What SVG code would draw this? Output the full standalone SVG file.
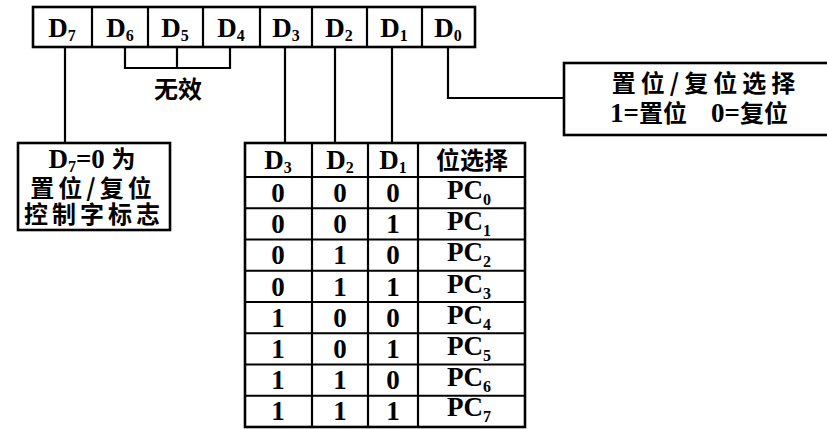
<svg xmlns="http://www.w3.org/2000/svg" width="827" height="429" viewBox="0 0 827 429">
<style>
.ln{stroke:#000;stroke-width:2.2;fill:none}
.bx{stroke:#000;stroke-width:2.6;fill:#fff}
.t{font-family:"Liberation Serif","Noto Sans CJK SC",serif;font-weight:bold;font-size:27px;fill:#000;text-anchor:middle}
.c{font-family:"Noto Sans CJK SC","Liberation Serif",sans-serif;font-weight:bold;font-size:24px;fill:#000;text-anchor:middle}
.l{font-family:"Liberation Serif",serif;font-size:27px}
.s{font-size:16px}
</style>
<rect width="827" height="429" fill="#fff"/>
<g id="register">
<rect class="bx" x="33" y="7" width="442" height="40"/>
<path class="ln" d="M92 7V47M148 7V47M203 7V47M260 7V47M312 7V47M367 7V47M422 7V47"/>
<text class="t" x="62" y="37">D<tspan class="s" dy="4">7</tspan></text>
<text class="t" x="120" y="37">D<tspan class="s" dy="4">6</tspan></text>
<text class="t" x="175" y="37">D<tspan class="s" dy="4">5</tspan></text>
<text class="t" x="231" y="37">D<tspan class="s" dy="4">4</tspan></text>
<text class="t" x="286" y="37">D<tspan class="s" dy="4">3</tspan></text>
<text class="t" x="339" y="37">D<tspan class="s" dy="4">2</tspan></text>
<text class="t" x="394" y="37">D<tspan class="s" dy="4">1</tspan></text>
<text class="t" x="448" y="37">D<tspan class="s" dy="4">0</tspan></text>
</g>
<g id="connectors">
<path class="ln" d="M65 47V143"/>
<path class="ln" d="M125 47V68H230V47M177 47V68"/>
<path class="ln" d="M285 47V143M335 47V143M392 47V143"/>
<path class="ln" d="M448 47V98H564"/>
</g>
<g id="invalid">
<text class="c" x="178" y="98" font-size="25">无效</text>
</g>
<g id="select-box">
<rect class="bx" x="564" y="63" width="270" height="72"/>
<text class="c" x="706" y="92" letter-spacing="5" font-size="25">置位/复位选择</text>
<text class="c" x="699" y="122" font-size="25"><tspan class="l">1=</tspan>置位<tspan class="l" dx="24">0=</tspan>复位</text>
</g>
<g id="flag-box">
<rect class="bx" x="18" y="143" width="152" height="87"/>
<text class="t" x="92" y="168" font-size="26">D<tspan class="s" dy="4">7</tspan><tspan dy="-4">=0 </tspan><tspan font-family="Noto Sans CJK SC" font-size="24">为</tspan></text>
<text class="c" x="93" y="197" letter-spacing="4">置位/复位</text>
<text class="c" x="94" y="223" letter-spacing="4">控制字标志</text>
</g>
<g id="table">
<rect class="bx" x="245" y="143" width="280" height="284" stroke-width="3.2"/>
<path class="ln" d="M312 143V427M368 143V427M418 143V427"/>
<path class="ln" d="M245 177H525M245 208.25H525M245 239.5H525M245 270.75H525M245 302H525M245 333.25H525M245 364.5H525M245 395.75H525"/>
<text class="t" x="278" y="169">D<tspan class="s" dy="4">3</tspan></text>
<text class="t" x="340" y="169">D<tspan class="s" dy="4">2</tspan></text>
<text class="t" x="393" y="169">D<tspan class="s" dy="4">1</tspan></text>
<text class="c" x="472" y="169" font-size="25">位选择</text>
<g class="rows">
<text class="t" x="278" y="202">0</text><text class="t" x="340" y="202">0</text><text class="t" x="393" y="202">0</text><text class="t" x="469" y="199">PC<tspan class="s" dy="6">0</tspan></text>
<text class="t" x="278" y="233">0</text><text class="t" x="340" y="233">0</text><text class="t" x="393" y="233">1</text><text class="t" x="469" y="230">PC<tspan class="s" dy="6">1</tspan></text>
<text class="t" x="278" y="264">0</text><text class="t" x="340" y="264">1</text><text class="t" x="393" y="264">0</text><text class="t" x="469" y="261">PC<tspan class="s" dy="6">2</tspan></text>
<text class="t" x="278" y="296">0</text><text class="t" x="340" y="296">1</text><text class="t" x="393" y="296">1</text><text class="t" x="469" y="293">PC<tspan class="s" dy="6">3</tspan></text>
<text class="t" x="278" y="327">1</text><text class="t" x="340" y="327">0</text><text class="t" x="393" y="327">0</text><text class="t" x="469" y="324">PC<tspan class="s" dy="6">4</tspan></text>
<text class="t" x="278" y="358">1</text><text class="t" x="340" y="358">0</text><text class="t" x="393" y="358">1</text><text class="t" x="469" y="355">PC<tspan class="s" dy="6">5</tspan></text>
<text class="t" x="278" y="389">1</text><text class="t" x="340" y="389">1</text><text class="t" x="393" y="389">0</text><text class="t" x="469" y="386">PC<tspan class="s" dy="6">6</tspan></text>
<text class="t" x="278" y="420">1</text><text class="t" x="340" y="420">1</text><text class="t" x="393" y="420">1</text><text class="t" x="469" y="416">PC<tspan class="s" dy="6">7</tspan></text>
</g>
</g>
</svg>
